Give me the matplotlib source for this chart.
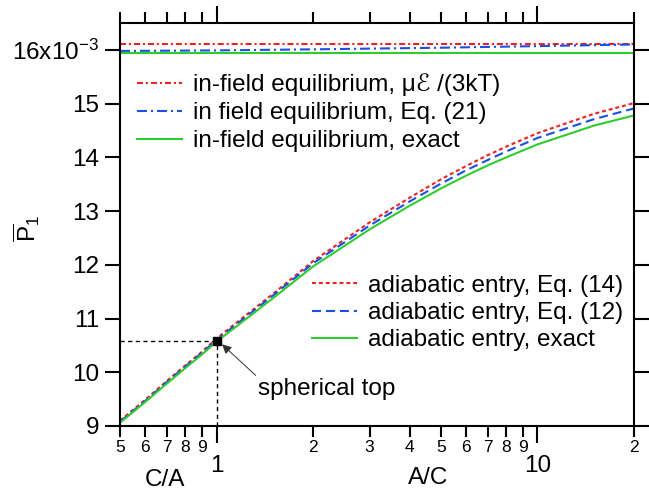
import numpy as np
import matplotlib
matplotlib.use("Agg")
import matplotlib.pyplot as plt
from matplotlib.ticker import FixedLocator, FixedFormatter

plt.rcParams['font.family'] = ['Liberation Sans', 'DejaVu Sans']
plt.rcParams['mathtext.fontset'] = 'custom'
plt.rcParams['mathtext.rm'] = 'Liberation Sans'
plt.rcParams['mathtext.it'] = 'Liberation Sans:italic'

# values in units of 1e-3
x = [0.5, 0.6, 0.7, 0.8, 0.9, 1, 1.5, 2, 3, 4, 5, 6, 7, 8, 10, 15, 20]
adiab_eq14 = [9.10, 9.49, 9.84, 10.13, 10.38, 10.63, 11.46, 12.07, 12.79, 13.25,
              13.59, 13.84, 14.04, 14.20, 14.45, 14.81, 15.01]
adiab_eq12 = [9.08, 9.47, 9.82, 10.11, 10.36, 10.60, 11.43, 12.03, 12.73, 13.18,
              13.51, 13.76, 13.95, 14.11, 14.36, 14.71, 14.91]
adiab_exact = [9.06, 9.45, 9.79, 10.08, 10.33, 10.57, 11.38, 11.97, 12.66, 13.10,
               13.42, 13.66, 13.85, 14.00, 14.24, 14.59, 14.78]

x_eq = [0.5, 1, 2, 5, 10, 20]
field_lin = [16.11, 16.11, 16.11, 16.11, 16.11, 16.11]
field_eq21 = [15.98, 15.99, 16.01, 16.04, 16.07, 16.10]
field_exact = [15.95, 15.95, 15.95, 15.95, 15.95, 15.95]

sph_x, sph_y = 1.0, 10.59

labels_field = ["in-field equilibrium, μℰ /(3kT)", "in field equilibrium, Eq. (21)",
                "in-field equilibrium, exact"]
labels_adiab = ["adiabatic entry, Eq. (14)", "adiabatic entry, Eq. (12)",
                "adiabatic entry, exact"]

yticks = [9, 10, 11, 12, 13, 14, 15, 16]
yticklabels = ['9', '10', '11', '12', '13', '14', '15', '16x10$^{-3}$']
minor_x = [0.5, 0.6, 0.7, 0.8, 0.9, 2, 3, 4, 5, 6, 7, 8, 9, 20]
minor_lbl = ['5', '6', '7', '8', '9', '2', '3', '4', '5', '6', '7', '8', '9', '2']
major_x = [1, 10]
major_lbl = ['1', '10']

red = '#ee2222'
blue = '#1a4fe6'
green = '#2ecc2e'
fs = 17.5

fig = plt.figure(figsize=(6.49, 4.91), dpi=100)
ax = fig.add_axes([120/649, 1-426/491, 514/649, 403/491])

lw = 1.5
l1, = ax.plot(x_eq, field_lin, color=red, lw=lw, dashes=(2.9, 1.4, 1, 1.4))
l2, = ax.plot(x_eq, field_eq21, color=blue, lw=lw, dashes=(4.8, 1.9, 1, 1.9))
l3, = ax.plot(x_eq, field_exact, color=green, lw=lw)
l4, = ax.plot(x, adiab_eq14, color=red, lw=lw, dashes=(1.9, 1.4))
l5, = ax.plot(x, adiab_eq12, color=blue, lw=lw, dashes=(4.3, 2.4))
l6, = ax.plot(x, adiab_exact, color=green, lw=lw)

ax.plot([0.5, sph_x], [sph_y, sph_y], color='black', lw=1, dashes=(3, 2.5))
ax.plot([sph_x, sph_x], [9, sph_y], color='black', lw=1, dashes=(3, 2.5))
ax.plot([sph_x], [sph_y], 's', color='black', ms=6, zorder=5)
ax.annotate('spherical top', xy=(1.04, 10.52), xytext=(1.35, 9.69),
            fontsize=fs, ha='left', va='center',
            arrowprops=dict(arrowstyle='-|>', color='#333333', lw=0.7,
                            mutation_scale=14, shrinkA=0, shrinkB=0,
                            relpos=(0.0, 1.0)))

ax.set_xscale('log')
ax.set_xlim(0.5, 20)
ax.set_ylim(9, 16.5)

ax.xaxis.set_major_locator(FixedLocator(major_x))
ax.xaxis.set_major_formatter(FixedFormatter(major_lbl))
ax.xaxis.set_minor_locator(FixedLocator(minor_x))
ax.xaxis.set_minor_formatter(FixedFormatter(minor_lbl))
ax.set_yticks(yticks)
ax.set_yticklabels(yticklabels)
ax.yaxis.set_minor_locator(FixedLocator([]))

for s in ax.spines.values():
    s.set_linewidth(1.5)
ax.tick_params(axis='x', which='major', direction='out', length=12, width=1.5,
               top=True, labelsize=fs, pad=9)
ax.tick_params(axis='x', which='minor', direction='out', length=8, width=1.5,
               top=True, labelsize=12.5, pad=2)
ax.tick_params(axis='y', which='major', direction='out', length=11, width=1.5,
               right=True, labelsize=fs, pad=4)

fig.text(165/649, 1-480/491, 'C/A', fontsize=fs, ha='center', va='center')
fig.text(428/649, 1-478/491, 'A/C', fontsize=fs, ha='center', va='center')
fig.text(27/649, 1-228/491, r'$\overline{\mathrm{P}}_{1}$', fontsize=fs,
         rotation=90, ha='center', va='center')

leg1 = ax.legend([l1, l2, l3], labels_field, loc='upper left',
                 bbox_to_anchor=(0.033, 0.875), frameon=False, fontsize=fs,
                 handlelength=1.85, handletextpad=0.45, labelspacing=0.25,
                 borderpad=0.0, borderaxespad=0.0)
ax.add_artist(leg1)
ax.legend([l4, l5, l6], labels_adiab, loc='lower right',
          bbox_to_anchor=(0.979, 0.185), frameon=False, fontsize=fs,
          handlelength=1.85, handletextpad=0.45, labelspacing=0.22,
          borderpad=0.0, borderaxespad=0.0)

fig.savefig('out.png', dpi=100)
